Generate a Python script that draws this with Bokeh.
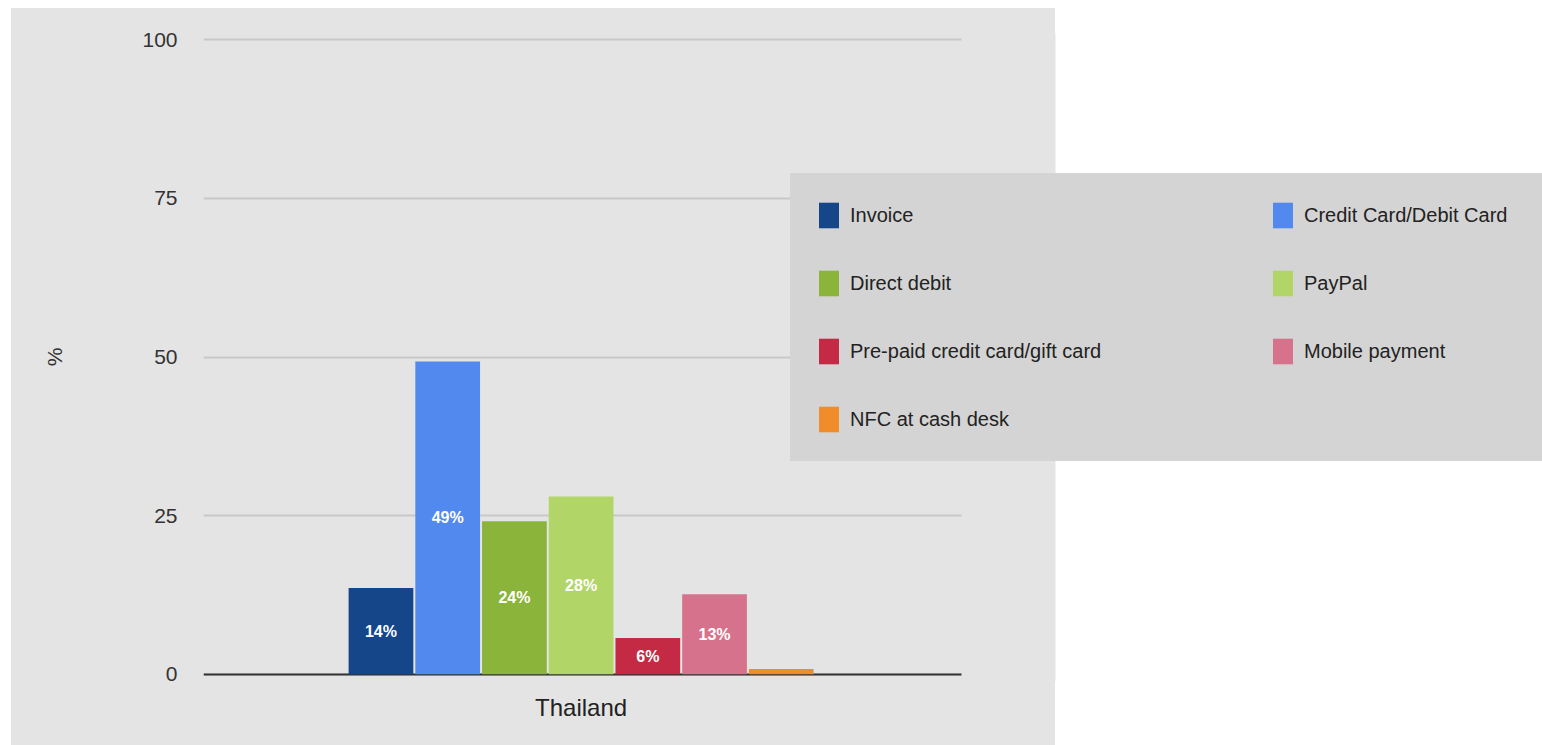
from bokeh.plotting import figure
from bokeh.models import (ColumnDataSource, Range1d, FixedTicker, LabelSet, Legend, LegendItem,
                          LinearAxis, Grid, BoxAnnotation)
from bokeh.core.properties import value, field
from bokeh.embed import file_html
from bokeh.resources import INLINE

country = "Thailand"
methods = ["Invoice", "Credit Card/Debit Card", "Direct debit", "PayPal",
           "Pre-paid credit card/gift card", "Mobile payment", "NFC at cash desk"]
values = [13.6, 49.3, 24.1, 28.0, 5.7, 12.6, 0.8]
colors = ["#15468a", "#5289ee", "#8bb43a", "#b2d567", "#c42a43", "#d6728b", "#f08c2a"]
y_ticks = [0, 25, 50, 75, 100]
label_min = 3  # values below this carry no in-bar label

pos = list(range(len(methods)))            # bar slots inside the country group
group_center = (len(methods) - 1) // 2
labels = [f"{round(v)}%" if v >= label_min else "" for v in values]
mids = [v / 2 for v in values]

src = ColumnDataSource(dict(pos=pos, method=methods, value=values, color=colors,
                            label=labels, mid=mids))

FONT = "Liberation Sans"
PANEL_GRAY = "#e4e4e4"
LEGEND_GRAY = "#d4d4d4"

p = figure(width=1542, height=745, output_backend="svg", toolbar_location=None,
           x_range=Range1d(-2.66, 17.41), y_range=Range1d(-1, 101),
           x_axis_location=None,
           min_border_left=203, min_border_right=0, min_border_top=33, min_border_bottom=65)
p.border_fill_alpha = 0
p.background_fill_alpha = 0
p.outline_line_color = None
# grey chart panel behind the (transparent) canvas
p.styles = {
    "background-image": f"linear-gradient({PANEL_GRAY}, {PANEL_GRAY})",
    "background-size": "1044px 737px",
    "background-position": "11px 8px",
    "background-repeat": "no-repeat",
}

# grid + baseline
p.xgrid.grid_line_color = None
p.ygrid.ticker = FixedTicker(ticks=y_ticks)
p.ygrid.grid_line_color = "#c8c8c8"
p.ygrid.grid_line_width = 2
p.add_layout(Grid(dimension=1, ticker=FixedTicker(ticks=[0]),
                  grid_line_color="#333333", grid_line_width=2))

bars = p.vbar(x="pos", top="value", width=0.97, bottom=0, color="color", line_color=None,
              source=src)

p.add_layout(LabelSet(x="pos", y="mid", text="label", source=src,
                      text_color="white", text_font=value(FONT), text_font_style="bold",
                      text_font_size="16px", text_align="center", text_baseline="middle"))

# the plotting area ends at x=960: mask the rest of the frame
p.add_layout(BoxAnnotation(left=961, right=1056, top=-50, bottom=900,
                           left_units="canvas", right_units="canvas",
                           top_units="canvas", bottom_units="canvas",
                           fill_color=PANEL_GRAY, fill_alpha=1, line_color=None))
p.add_layout(BoxAnnotation(left=1055, right=1600, top=-50, bottom=900,
                           left_units="canvas", right_units="canvas",
                           top_units="canvas", bottom_units="canvas",
                           fill_color="white", fill_alpha=1, line_color=None))

# y axis
p.yaxis.ticker = FixedTicker(ticks=y_ticks)
p.yaxis.axis_line_color = None
p.yaxis.major_tick_line_color = None
p.yaxis.major_tick_out = 0
p.yaxis.major_tick_in = 0
p.yaxis.minor_tick_line_color = None
p.yaxis.major_label_standoff = 26
p.yaxis.major_label_text_font = FONT
p.yaxis.major_label_text_font_size = "21px"
p.yaxis.major_label_text_color = "#333333"
p.yaxis.axis_label = "%"
p.yaxis.axis_label_text_font = FONT
p.yaxis.axis_label_text_font_size = "21px"
p.yaxis.axis_label_text_font_style = "normal"
p.yaxis.axis_label_text_color = "#333333"
p.yaxis.axis_label_standoff = 73

# x axis: single group label under the bars
xax = LinearAxis(ticker=FixedTicker(ticks=[group_center]),
                 major_label_overrides={group_center: country})
xax.axis_line_color = None
xax.major_tick_line_color = None
xax.minor_tick_line_color = None
xax.major_tick_out = 0
xax.major_tick_in = 0
xax.major_label_standoff = 13
xax.major_label_text_font = FONT
xax.major_label_text_font_size = "24px"
xax.major_label_text_color = "#222222"
p.add_layout(xax, "below")

# legend (2 columns, row-major)
lg = Legend(items=[LegendItem(label=field("method"), renderers=[bars])])
lg.orientation = "horizontal"
lg.ncols = 2
lg.padding = 25
lg.spacing = 36
lg.margin = 0
lg.location = (587, 219)
lg.glyph_width = 25
lg.glyph_height = 32
lg.label_standoff = 9
lg.label_width = 384
lg.label_height = 32
lg.label_text_font = FONT
lg.label_text_font_size = "20px"
lg.label_text_color = "#222222"
lg.background_fill_color = LEGEND_GRAY
lg.background_fill_alpha = 1
lg.border_line_color = LEGEND_GRAY
lg.border_line_width = 1
p.add_layout(lg, "center")

open("out.html", "w").write(file_html(p, INLINE))
